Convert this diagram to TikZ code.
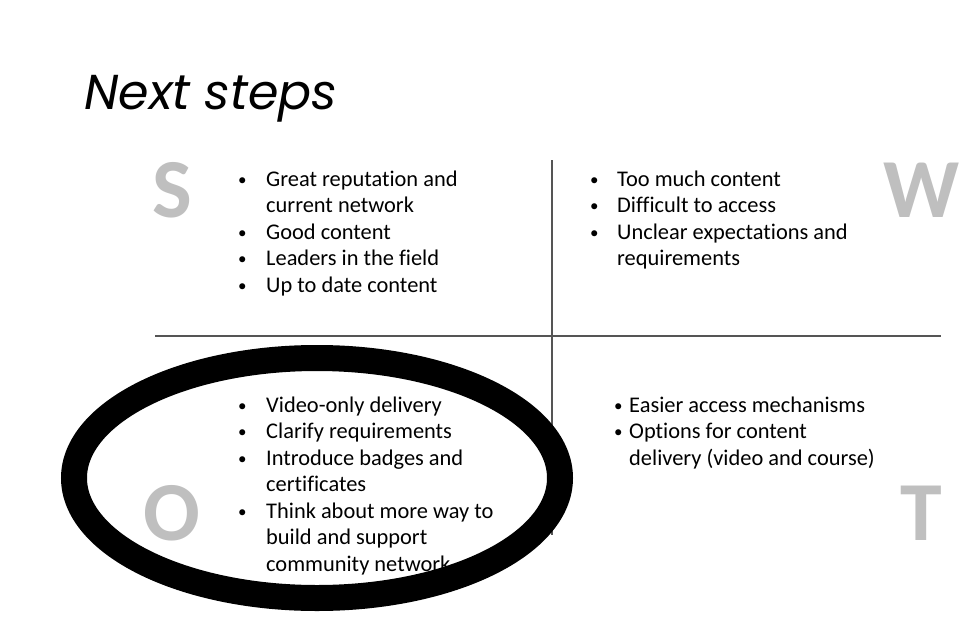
\documentclass[tikz,border=0pt]{standalone}
\usepackage{fontspec}
\setmainfont{Carlito}[Ligatures=NoCommon]
\newfontfamily\titlefont{Poppins}
\usetikzlibrary{positioning}
\definecolor{swotgray}{RGB}{191, 191, 191}
\definecolor{gridgray}{RGB}{85, 85, 85}

\newcommand{\dotmark}{\raisebox{1pt}{\fontsize{17}{17}\selectfont\textbullet}}
\newcommand{\bulletrows}[2]{%
  \fontsize{22.4}{26.5}\selectfont
  \begin{tabular}{@{}p{#1}@{}l@{}}#2\end{tabular}}

\begin{document}
\begin{tikzpicture}[x=1pt, y=-1pt,
    swotletter/.style={anchor=base, inner sep=0pt, text=swotgray,
      font=\fontsize{84}{84}\selectfont\bfseries},
    bulletlist/.style={anchor=north west, inner sep=0pt}]
            \useasboundingbox (0,0) rectangle (980,621);

            % title
            \node[anchor=base west, inner sep=0pt, font=\titlefont\itshape\fontsize{49}{49}\selectfont] (title) at (84,109) {Next steps};

            % quadrant lines
            \draw[gridgray, line width=1.2pt] (155,336) -- (941,336);
            \draw[gridgray, line width=1.2pt] (552,160) -- (552,535);

            % S W O T letters
            \node[swotletter] (sMark) at (172,217) {S};
            \node[swotletter] (wMark) at (922,217) {W};
            \node[swotletter] (oMark) at (172,540) {O};
            \node[swotletter] (tMark) at (921,540) {T};

            % strengths
            \node[bulletlist] (sList) at (238,167.5) {\bulletrows{28pt}{%
              \dotmark & Great reputation and\\
              & current network\\
              \dotmark & Good content\\
              \dotmark & Leaders in the field\\
              \dotmark & Up to date content}};

            % weaknesses
            \node[bulletlist] (wList) at (590,167.5) {\bulletrows{27pt}{%
              \dotmark & Too much content\\
              \dotmark & Difficult to access\\
              \dotmark & Unclear expectations and\\
              & requirements}};

            % opportunities
            \node[bulletlist] (oList) at (238,393.5) {\bulletrows{28pt}{%
              \dotmark & Video-only delivery\\
              \dotmark & Clarify requirements\\
              \dotmark & Introduce badges and\\
              & certificates\\
              \dotmark & Think about more way to\\
              & build and support\\
              & community network}};

            % threats
            \node[bulletlist] (tList) at (614,393.5) {\bulletrows{15pt}{%
              \dotmark & Easier access mechanisms\\
              \dotmark & Options for content\\
              & delivery (video and course)}};

            % hand drawn ring round the O quadrant
            \draw[line width=26pt] (317,478) ellipse [x radius=243, y radius=120];
        \end{tikzpicture}
\end{document}
